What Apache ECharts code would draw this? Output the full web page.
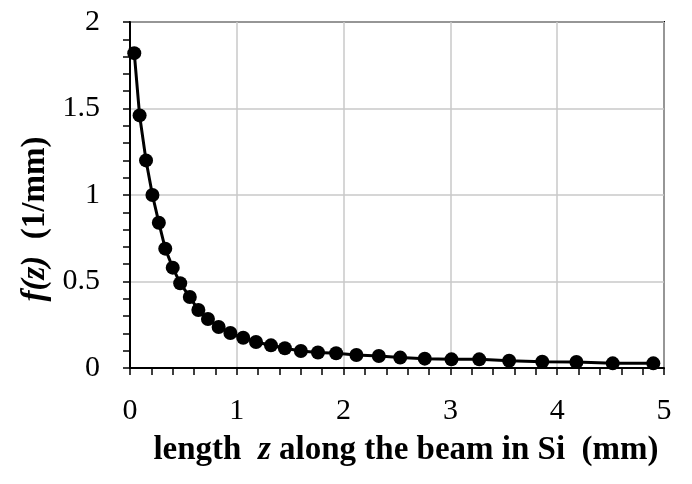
<!DOCTYPE html>
<html>
<head>
<meta charset="utf-8">
<script src="https://cdn.jsdelivr.net/npm/echarts@6/dist/echarts.min.js"></script>
<style>
html, body { margin: 0; padding: 0; background: #fff; }
#chart { width: 692px; height: 484px; }
</style>
</head>
<body>
<div id="chart"></div>
<script>
// length z (mm) and f(z) (1/mm)
var zValues = [0.04, 0.09, 0.15, 0.21, 0.27, 0.33, 0.40, 0.47, 0.56, 0.64, 0.73, 0.83, 0.94,
	1.06, 1.18, 1.32, 1.45, 1.60, 1.76, 1.93, 2.12, 2.33, 2.53, 2.76, 3.01, 3.27, 3.55,
	3.86, 4.18, 4.52, 4.90];
var fValues = [1.82, 1.46, 1.20, 1.00, 0.84, 0.69, 0.58, 0.49, 0.41, 0.335, 0.283, 0.237, 0.202,
	0.175, 0.150, 0.131, 0.114, 0.098, 0.090, 0.085, 0.075, 0.069, 0.060, 0.054, 0.050, 0.050, 0.042,
	0.036, 0.035, 0.027, 0.027];
var xTicks = [0, 1, 2, 3, 4, 5];
var yTicks = [0, 0.5, 1, 1.5, 2];

var points = [];
for (var i = 0; i < zValues.length; i++) {
	points.push([zValues[i], fValues[i]]);
}

var font = '"Liberation Serif", "Times New Roman", serif';
var myChart = echarts.init(document.getElementById('chart'));
var option = {
	animation: false,
	grid: {
		show: true,
		left: 130,
		right: 28,
		top: 22,
		bottom: 116,
		borderColor: '#000',
		borderWidth: 2,
		backgroundColor: '#fff'
	},
	xAxis: {
		type: 'value',
		min: xTicks[0],
		max: xTicks[xTicks.length - 1],
		interval: 1,
		axisLine: { lineStyle: { color: '#000', width: 2 } },
		axisTick: { length: 7, lineStyle: { color: '#000', width: 1.5 } },
		minorTick: { show: true, splitNumber: 5, length: 7, lineStyle: { color: '#000', width: 1.5 } },
		splitLine: { show: true, lineStyle: { color: '#c8c8c8', width: 1.5 } },
		axisLabel: { color: '#000', fontFamily: font, fontSize: 30, margin: 28 },
		name: '{b|length  }{i|z}{b| along the beam in Si  (mm)}',
		nameLocation: 'middle',
		nameGap: 66,
		nameTextStyle: {
			padding: [0, 0, 0, 18],
			rich: {
				b: { fontFamily: font, fontSize: 33, fontWeight: 'bold', color: '#000' },
				i: { fontFamily: font, fontSize: 33, fontWeight: 'bold', fontStyle: 'italic', color: '#000' }
			}
		}
	},
	yAxis: {
		type: 'value',
		min: yTicks[0],
		max: yTicks[yTicks.length - 1],
		interval: 0.5,
		axisLine: { show: true, lineStyle: { color: '#000', width: 2 } },
		axisTick: { show: true, length: 7, lineStyle: { color: '#000', width: 1.5 } },
		minorTick: { show: true, splitNumber: 5, length: 7, lineStyle: { color: '#000', width: 1.5 } },
		splitLine: { show: true, lineStyle: { color: '#c8c8c8', width: 1.5 } },
		axisLabel: { color: '#000', fontFamily: font, fontSize: 30, margin: 30 },
		name: '{i|f(z)}{b|  (1/mm)}',
		nameLocation: 'middle',
		nameGap: 76,
		nameTextStyle: {
			padding: [0, 48, 0, 0],
			rich: {
				b: { fontFamily: font, fontSize: 33, fontWeight: 'bold', color: '#000' },
				i: { fontFamily: font, fontSize: 33, fontWeight: 'bold', fontStyle: 'italic', color: '#000' }
			}
		}
	},
	series: [{
		type: 'line',
		data: points,
		symbol: 'circle',
		symbolSize: 14,
		itemStyle: { color: '#000' },
		lineStyle: { color: '#000', width: 3 }
	}]
};
myChart.setOption(option);
window.onresize = function(){
	myChart.resize();
}
</script>
</body>
</html>
